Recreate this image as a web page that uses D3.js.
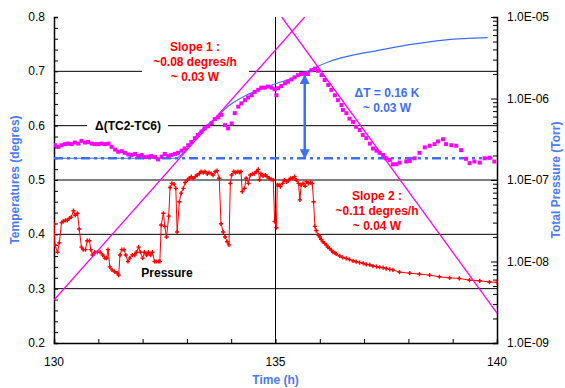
<!DOCTYPE html>
<html>
<head>
<meta charset="utf-8">
<script src="https://d3js.org/d3.v7.min.js"></script>
<style>
  body { margin: 0; background: #fff; }
  svg { font-family: "Liberation Sans", Arial, sans-serif; }
</style>
</head>
<body>
<div id="chart"></div>
<script>
// Δ(TC2-TC6) temperature difference, degrees
var tempTime = [130.02,130.10,130.17,130.25,130.32,130.40,130.47,130.55,130.62,130.70,130.77,130.85,130.92,131.00,131.07,131.15,131.23,131.30,131.38,131.45,131.53,131.60,131.68,131.75,131.83,131.90,131.98,132.05,132.13,132.20,132.28,132.35,132.43,132.50,132.58,132.65,132.73,132.80,132.88,132.95,133.03,133.10,133.18,133.25,133.33,133.40,133.48,133.56,133.63,133.71,133.78,133.86,133.93,134.01,134.08,134.16,134.23,134.31,134.38,134.46,134.53,134.61,134.68,134.76,134.83,134.91,134.98,135.02,135.06,135.13,135.21,135.28,135.36,135.43,135.51,135.58,135.66,135.73,135.81,135.89,135.96,136.04,136.11,136.19,136.26,136.34,136.41,136.49,136.52,136.60,136.67,136.75,136.82,136.90,136.97,137.05,137.13,137.20,137.28,137.35,137.43,137.50,137.58,137.65,137.73,137.80,137.95,138.03,138.14,138.25,138.37,138.48,138.59,138.67,138.78,138.85,138.97,139.08,139.19,139.30,139.38,139.49,139.61,139.72,139.83,139.94];
var tempValue = [0.564,0.561,0.564,0.566,0.567,0.566,0.569,0.567,0.572,0.569,0.570,0.567,0.566,0.566,0.567,0.566,0.567,0.561,0.556,0.552,0.553,0.550,0.547,0.546,0.548,0.544,0.546,0.542,0.543,0.544,0.542,0.538,0.543,0.548,0.544,0.546,0.548,0.550,0.554,0.558,0.564,0.570,0.577,0.583,0.589,0.595,0.599,0.605,0.612,0.615,0.620,0.601,0.595,0.604,0.623,0.635,0.641,0.647,0.652,0.656,0.662,0.666,0.670,0.670,0.672,0.670,0.667,0.656,0.669,0.673,0.678,0.681,0.685,0.689,0.693,0.695,0.696,0.695,0.702,0.705,0.701,0.693,0.684,0.675,0.666,0.656,0.647,0.638,0.629,0.623,0.613,0.607,0.598,0.592,0.583,0.577,0.567,0.558,0.554,0.550,0.546,0.540,0.537,0.529,0.529,0.532,0.534,0.535,0.540,0.550,0.560,0.563,0.566,0.571,0.575,0.566,0.564,0.563,0.555,0.539,0.531,0.534,0.532,0.540,0.541,0.534];

// total pressure, Torr
var presTime = [130.00,130.02,130.08,130.12,130.17,130.21,130.26,130.30,130.35,130.39,130.44,130.48,130.53,130.57,130.62,130.66,130.71,130.75,130.80,130.83,130.87,130.92,130.98,131.04,131.10,131.15,131.19,131.22,131.26,131.31,131.37,131.43,131.46,131.49,131.53,131.58,131.62,131.67,131.71,131.77,131.82,131.86,131.91,131.95,132.00,132.04,132.09,132.13,132.18,132.22,132.27,132.31,132.36,132.39,132.42,132.47,132.50,132.54,132.59,132.62,132.66,132.71,132.75,132.78,132.83,132.87,132.92,132.96,133.01,133.05,133.10,133.14,133.19,133.23,133.28,133.32,133.37,133.41,133.46,133.50,133.55,133.59,133.64,133.68,133.73,133.77,133.82,133.86,133.91,133.95,133.98,134.01,134.06,134.10,134.15,134.19,134.22,134.25,134.30,134.34,134.39,134.43,134.48,134.52,134.57,134.61,134.64,134.67,134.72,134.77,134.81,134.86,134.90,134.95,134.98,135.02,135.04,135.08,135.11,135.16,135.20,135.25,135.29,135.34,135.38,135.43,135.47,135.52,135.55,135.58,135.62,135.67,135.70,135.74,135.79,135.83,135.86,135.89,135.92,135.97,136.00,136.03,136.07,136.11,136.15,136.18,136.22,136.26,136.30,136.34,136.37,136.45,136.52,136.60,136.67,136.75,136.82,136.90,136.98,137.05,137.13,137.20,137.28,137.35,137.43,137.50,137.58,137.65,137.80,138.03,138.25,138.48,138.70,138.93,139.15,139.38,139.61,139.83,140.00];
var presValue = [2.9e-8,1.6e-8,1.3e-8,1.7e-8,3.0e-8,3.1e-8,3.2e-8,3.2e-8,3.4e-8,3.5e-8,4.2e-8,3.7e-8,3.9e-8,2.5e-8,1.5e-8,1.4e-8,1.4e-8,1.8e-8,1.8e-8,1.4e-8,1.2e-8,1.3e-8,1.3e-8,1.3e-8,1.2e-8,1.1e-8,1.1e-8,1.4e-8,8.6e-9,7.9e-9,7.5e-9,7.2e-9,6.8e-9,1.2e-8,1.4e-8,1.4e-8,1.2e-8,1.0e-8,1.1e-8,1.2e-8,1.2e-8,1.3e-8,1.5e-8,1.3e-8,1.1e-8,1.3e-8,1.2e-8,1.3e-8,1.2e-8,1.3e-8,1.0e-8,1.0e-8,1.0e-8,1.0e-8,2.8e-8,3.9e-8,2.7e-8,2.0e-8,3.6e-8,8.1e-8,9.1e-8,8.9e-8,7.9e-8,2.3e-8,5.4e-8,6.9e-8,7.9e-8,9.3e-8,1.0e-7,1.05e-7,1.1e-7,1.05e-7,1.1e-7,1.15e-7,1.2e-7,1.27e-7,1.23e-7,1.27e-7,1.19e-7,1.23e-7,1.2e-7,1.15e-7,1.27e-7,1.3e-7,1.05e-7,2.9e-8,2.3e-8,2.0e-8,1.75e-8,1.6e-8,9.1e-8,1.15e-7,1.27e-7,1.23e-7,1.27e-7,1.24e-7,1.27e-7,7.2e-8,7.9e-8,1.05e-7,9.1e-8,1.15e-7,1.19e-7,1.2e-7,1.27e-7,1.35e-7,1.0e-7,1.2e-7,1.12e-7,1.15e-7,1.1e-7,1.05e-7,1.02e-7,1.0e-7,3.1e-8,2.6e-8,8.7e-8,8.7e-8,8.3e-8,9.1e-8,1.0e-7,9.5e-8,9.8e-8,1.05e-7,1.05e-7,1.1e-7,1.0e-7,9.1e-8,5.7e-8,8.7e-8,9.1e-8,8.4e-8,9.5e-8,9.1e-8,9.3e-8,9.1e-8,5.4e-8,2.7e-8,2.4e-8,2.1e-8,2.0e-8,1.87e-8,1.75e-8,1.67e-8,1.59e-8,1.5e-8,1.45e-8,1.38e-8,1.3e-8,1.28e-8,1.24e-8,1.17e-8,1.12e-8,1.09e-8,1.06e-8,1.02e-8,9.95e-9,9.7e-9,9.5e-9,9.2e-9,9.1e-9,8.8e-9,8.65e-9,8.5e-9,8.4e-9,8.2e-9,8.0e-9,7.9e-9,7.4e-9,7.2e-9,7.0e-9,6.8e-9,6.5e-9,6.3e-9,6.2e-9,5.9e-9,5.8e-9,5.6e-9,5.55e-9];

// fitted curve (blue)
var fitTime = [130.0,132.75,132.95,133.29,133.59,133.97,134.34,134.72,135.10,135.47,135.85,136.22,136.60,137.35,138.10,138.85,139.79];
var fitValue = [0.540,0.540,0.553,0.589,0.610,0.638,0.656,0.669,0.680,0.690,0.705,0.718,0.727,0.739,0.750,0.758,0.762];

// slope lines and baseline
var slope1 = [[130, 0.279], [135.66, 0.8]];
var slope2 = [[135.14, 0.8], [140, 0.255]];
var baseline = [[130, 0.540], [139.9, 0.540]];
var deltaArrow = [135.66, 0.693, 0.540];

var tempTicks = [0.2, 0.3, 0.4, 0.5, 0.6, 0.7, 0.8];
var gridValues = [0.3, 0.4, 0.5, 0.6, 0.7];
var timeTicks = [130, 135, 140];
var presTicks = [1e-9, 1e-8, 1e-7, 1e-6, 1e-5];

var width = 565, height = 388;
var magenta = "#ff00ff", red = "#ff0000", blue = "#3d6ff0", labelBlue = "#4a7bf2";

var svg = d3.select("#chart").append("svg")
  .attr("width", width).attr("height", height);

var x = d3.scaleLinear().domain([130, 140]).range([54, 497]);
var y = d3.scaleLinear().domain([0.2, 0.8]).range([343, 17]);
var yP = d3.scaleLog().domain([1e-9, 1e-5]).range([343, 17]);

svg.append("clipPath").attr("id", "plot")
  .append("rect").attr("x", 54).attr("y", 17).attr("width", 443).attr("height", 326);

// gridlines
svg.selectAll(".grid").data(gridValues).enter().append("line")
  .attr("x1", 54).attr("x2", 497)
  .attr("y1", d => y(d)).attr("y2", d => y(d))
  .attr("stroke", "#000").attr("stroke-width", 1);
svg.append("line")
  .attr("x1", x(135)).attr("x2", x(135)).attr("y1", 17).attr("y2", 343)
  .attr("stroke", "#000");

// white boxes behind labels breaking the gridlines
svg.append("rect").attr("x", 142).attr("y", 38).attr("width", 107).attr("height", 46).attr("fill", "#fff");
svg.append("rect").attr("x", 87).attr("y", 118).attr("width", 81).attr("height", 16).attr("fill", "#fff");

// axes
var left = svg.append("g").attr("transform", "translate(54,0)")
  .call(d3.axisRight(y).tickValues(d3.range(0.2, 0.8001, 0.02)).tickSize(4).tickFormat(""));
var bottom = svg.append("g").attr("transform", "translate(0,343)")
  .call(d3.axisTop(x).tickValues(d3.range(130, 140.01, 1)).tickSize(4).tickFormat(""));
var minorP = [];
presTicks.slice(0, 4).forEach(function (p) {
  for (var k = 1; k <= 9; k++) minorP.push(p * k);
});
minorP.push(1e-5);
var right = svg.append("g").attr("transform", "translate(497,0)")
  .call(d3.axisLeft(yP).tickValues(minorP).tickSize(4).tickFormat(""));
[left, bottom, right].forEach(function (g) {
  g.selectAll("path, line").attr("stroke", "#000");
  g.select(".domain").attr("stroke-width", 1.5);
});
right.selectAll(".tick line").filter(d => presTicks.indexOf(d) >= 0).attr("x2", -6);

svg.selectAll(".ylab").data(tempTicks).enter().append("text")
  .attr("x", 45).attr("y", d => y(d) + 4).attr("text-anchor", "end")
  .attr("font-size", 12).text(d => d.toFixed(1));
svg.selectAll(".xlab").data(timeTicks).enter().append("text")
  .attr("x", d => x(d)).attr("y", 366).attr("text-anchor", "middle")
  .attr("font-size", 12).text(d => d);
svg.selectAll(".plab").data(presTicks).enter().append("text")
  .attr("x", 507).attr("y", d => yP(d) + 4)
  .attr("font-size", 12).text(d => d.toExponential(1).toUpperCase().replace(/E-(\d)$/, "E-0$1"));

// axis titles
svg.append("text").attr("transform", "translate(19,180) rotate(-90)")
  .attr("text-anchor", "middle").attr("font-size", 12).attr("font-weight", "bold")
  .attr("fill", labelBlue).text("Temperatures (degres)");
svg.append("text").attr("transform", "translate(560,180) rotate(-90)")
  .attr("text-anchor", "middle").attr("font-size", 12).attr("font-weight", "bold")
  .attr("fill", labelBlue).text("Total Pressure (Torr)");
svg.append("text").attr("x", x(135)).attr("y", 384)
  .attr("text-anchor", "middle").attr("font-size", 12).attr("font-weight", "bold")
  .attr("fill", labelBlue).text("Time (h)");

var plot = svg.append("g").attr("clip-path", "url(#plot)");
var line = d3.line().x(d => x(d[0])).y(d => y(d[1]));

// baseline dash-dot
plot.append("path").datum(baseline).attr("d", line)
  .attr("stroke", blue).attr("stroke-width", 2.5).attr("fill", "none")
  .attr("stroke-dasharray", "9,4,3,4,3,4");

// pressure
var presData = presTime.map((t, i) => [t, presValue[i]]);
plot.append("path").datum(presData)
  .attr("d", d3.line().x(d => x(d[0])).y(d => yP(d[1])))
  .attr("stroke", red).attr("stroke-width", 1).attr("fill", "none");
plot.selectAll(".pm").data(presData).enter().append("path")
  .attr("transform", d => "translate(" + x(d[0]) + "," + yP(d[1]) + ")")
  .attr("d", d3.symbol(d3.symbolCross, 10))
  .attr("fill", red);

// fitted curve
var fitData = fitTime.map((t, i) => [t, fitValue[i]]);
plot.append("path").datum(fitData)
  .attr("d", d3.line().curve(d3.curveMonotoneX).x(d => x(d[0])).y(d => y(d[1])))
  .attr("stroke", blue).attr("stroke-width", 1.2).attr("fill", "none");

// slope lines
[slope1, slope2].forEach(function (s) {
  plot.append("path").datum(s).attr("d", line)
    .attr("stroke", magenta).attr("stroke-width", 1.3).attr("fill", "none");
});

// temperature difference markers
var tempData = tempTime.map((t, i) => [t, tempValue[i]]);
plot.selectAll(".tm").data(tempData).enter().append("rect")
  .attr("x", d => x(d[0]) - 2).attr("y", d => y(d[1]) - 2)
  .attr("width", 4).attr("height", 4).attr("fill", magenta);

// delta T arrow
var defs = svg.append("defs");
defs.append("marker").attr("id", "head").attr("viewBox", "0 0 10 10")
  .attr("refX", 9).attr("refY", 5).attr("markerWidth", 4).attr("markerHeight", 4)
  .attr("orient", "auto-start-reverse")
  .append("path").attr("d", "M0,0L10,5L0,10Z").attr("fill", blue);
svg.append("line")
  .attr("x1", x(deltaArrow[0])).attr("x2", x(deltaArrow[0]))
  .attr("y1", y(deltaArrow[1])).attr("y2", y(deltaArrow[2]))
  .attr("stroke", blue).attr("stroke-width", 2.5)
  .attr("marker-start", "url(#head)").attr("marker-end", "url(#head)");

// annotations
function label(lines, cx, cy, color) {
  var t = svg.append("text").attr("text-anchor", "middle")
    .attr("font-size", 12).attr("font-weight", "bold").attr("fill", color);
  lines.forEach(function (s, i) {
    t.append("tspan").attr("x", cx).attr("y", cy + i * 15).text(s);
  });
}
label(["Slope 1 :", "~0.08 degres/h", "~ 0.03 W"], 195, 51, red);
label(["Δ(TC2-TC6)"], 128, 130, "#000");
label(["ΔT = 0.16 K", "~ 0.03 W"], 387, 97, blue);
label(["Slope 2 :", "~0.11 degres/h", "~ 0.04 W"], 377, 200, red);
label(["Pressure"], 167, 277, "#000");
</script>
</body>
</html>
